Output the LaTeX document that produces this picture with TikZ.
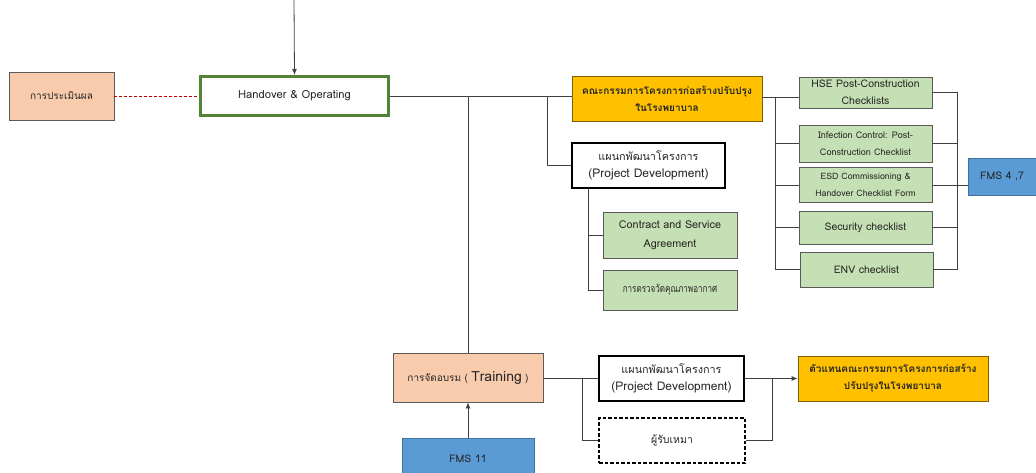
\documentclass[tikz,border=0pt]{standalone}
\usepackage{fontspec}
\setmainfont[Script=Thai]{Loma}
\newfontfamily\narrowthai[Script=Thai,FakeStretch=0.77]{Loma}
\usetikzlibrary{arrows.meta,calc}
\definecolor{peach}{HTML}{F8CBAD}
\definecolor{leaf}{HTML}{C5E0B4}
\definecolor{amber}{HTML}{FFC000}
\definecolor{sky}{HTML}{5B9BD5}
\definecolor{skyedge}{HTML}{41719C}
\definecolor{grass}{HTML}{548235}
\definecolor{wire}{HTML}{404040}
\definecolor{boxedge}{HTML}{5A5A5A}
\definecolor{amberedge}{HTML}{7F6000}
\definecolor{redline}{HTML}{C00000}
\tikzset{
  base/.style={rectangle, inner sep=2pt, align=center, font=\fontsize{10.5}{17}\selectfont, text=black!85},
  peachbox/.style={base, fill=peach, draw=boxedge, line width=0.8pt},
  leafbox/.style={base, fill=leaf, draw=boxedge, line width=0.9pt},
  amberbox/.style={base, fill=amber, draw=amberedge, line width=0.8pt, font=\fontsize{10}{17}\selectfont\bfseries},
  skybox/.style={base, fill=sky, draw=skyedge, line width=0.8pt},
  plainbox/.style={base, fill=white, draw=black, line width=1.6pt},
  dashbox/.style={base, fill=white, draw=black, line width=1.2pt, dash pattern=on 3.5pt off 2pt},
  greenframe/.style={base, fill=white, draw=grass, line width=3.2pt, font=\fontsize{11.2}{17}\selectfont},
  link/.style={draw=wire, line width=0.8pt},
  arrowlink/.style={link, -{Latex[length=6pt,width=5pt]}},
}
\begin{document}
\begin{tikzpicture}[x=1pt,y=-1pt]
\useasboundingbox (0,0) rectangle (1036,473);

% main chain
\node[peachbox, minimum width=105pt, minimum height=48pt, font=\fontsize{10}{17}\selectfont] (eval) at (61.5,96) {การประเมินผล};
\node[greenframe, minimum width=188pt, minimum height=39pt] (hand) at (294.5,96) {Handover \& Operating};
\node[amberbox, minimum width=190pt, minimum height=45pt] (comm) at (667,98.5) {คณะกรรมการโครงการก่อสร้างปรับปรุง\\ในโรงพยาบาล};

% checklists
\node[leafbox, minimum width=133pt, minimum height=31pt] (hse) at (865.5,92.5) {HSE Post-Construction\\Checklists};
\node[leafbox, minimum width=133pt, minimum height=37pt, font=\fontsize{9.1}{17}\selectfont] (inf) at (865.5,143.5) {Infection Control: Post-\\Construction Checklist};
\node[leafbox, minimum width=133pt, minimum height=35pt, font=\fontsize{8.8}{17}\selectfont] (esd) at (865.5,185) {ESD Commissioning \&\\Handover Checklist Form};
\node[leafbox, minimum width=133pt, minimum height=33pt] (sec) at (865.5,227.5) {Security checklist};
\node[leafbox, minimum width=133pt, minimum height=35pt] (env) at (866.5,269.5) {ENV checklist};
\node[skybox, minimum width=68pt, minimum height=37pt] (fms47) at (1002,176.5) {FMS 4 ,7};

% project development branch
\node[plainbox, minimum width=153pt, minimum height=45pt, font=\fontsize{10.8}{17}\selectfont] (pd1) at (648.5,165.5) {แผนกพัฒนาโครงการ\\{\fontsize{12}{17}\selectfont(Project Development)}};
\node[leafbox, minimum width=134pt, minimum height=46pt, font=\fontsize{10.8}{19}\selectfont] (contract) at (670,235) {Contract and Service\\Agreement};
\node[leafbox, minimum width=134pt, minimum height=40pt, font=\fontsize{10.5}{17}\narrowthai] (airq) at (670,290) {การตรวจวัดคุณภาพอากาศ};

% training branch
\node[peachbox, minimum width=150pt, minimum height=49pt, font=\fontsize{10}{17}\selectfont] (train) at (468,377.5) {การจัดอบรม ( {\fontsize{14}{17}\selectfont Training} )};
\node[skybox, minimum width=132pt, minimum height=42pt] (fms11) at (468,459) {FMS 11};
\node[plainbox, minimum width=145pt, minimum height=45pt, font=\fontsize{10.8}{17}\selectfont] (pd2) at (671.5,378.5) {แผนกพัฒนาโครงการ\\{\fontsize{12}{17}\selectfont(Project Development)}};
\node[dashbox, minimum width=146pt, minimum height=45pt] (contr) at (672,440.5) {ผู้รับเหมา};
\node[amberbox, minimum width=190pt, minimum height=45pt] (rep) at (893,378.5) {ตัวแทนคณะกรรมการโครงการก่อสร้าง\\ปรับปรุงในโรงพยาบาล};

% junction points
\coordinate (top) at (294,0);
\coordinate (j1) at (547,96);
\coordinate (lb) at (775,97);
\coordinate (rb) at (957,92.5);
\coordinate (pdv) at (588,188);
\coordinate (tb) at (582,378);
\coordinate (pb) at (772,378.5);

% connectors
\draw[arrowlink] (top) -- (hand.north);
\draw[draw=redline, line width=0.6pt, densely dashed] (eval.east) -- (hand.west);
\draw[link] (hand.east) -- (comm.west|-hand.east);
\draw[link] (train.north|-hand.east) -- (train.north);
\draw[link] (j1) |- (pd1.west);

\draw[link] (comm.east|-lb) -- (hse.west|-lb);
\draw[link] (lb) |- (env.west);
\draw[link] (lb|-inf.west) -- (inf.west);
\draw[link] (lb|-esd.west) -- (esd.west);
\draw[link] (lb|-sec.west) -- (sec.west);

\draw[link] (hse.east) -- (rb) |- (env.east);
\draw[link] (inf.east) -- (rb|-inf.east);
\draw[link] (esd.east) -- (fms47.west|-esd.east);
\draw[link] (sec.east) -- (rb|-sec.east);

\draw[link] (pdv) |- (airq.west);
\draw[link] (pdv|-contract.west) -- (contract.west);

\draw[arrowlink] (fms11.north) -- (train.south);
\draw[link] (train.east|-tb) -- (pd2.west|-tb);
\draw[link] (tb) |- (contr.west);
\draw[arrowlink] (pd2.east) -- (rep.west);
\draw[link] (pb) |- (contr.east);
\end{tikzpicture}
\end{document}
